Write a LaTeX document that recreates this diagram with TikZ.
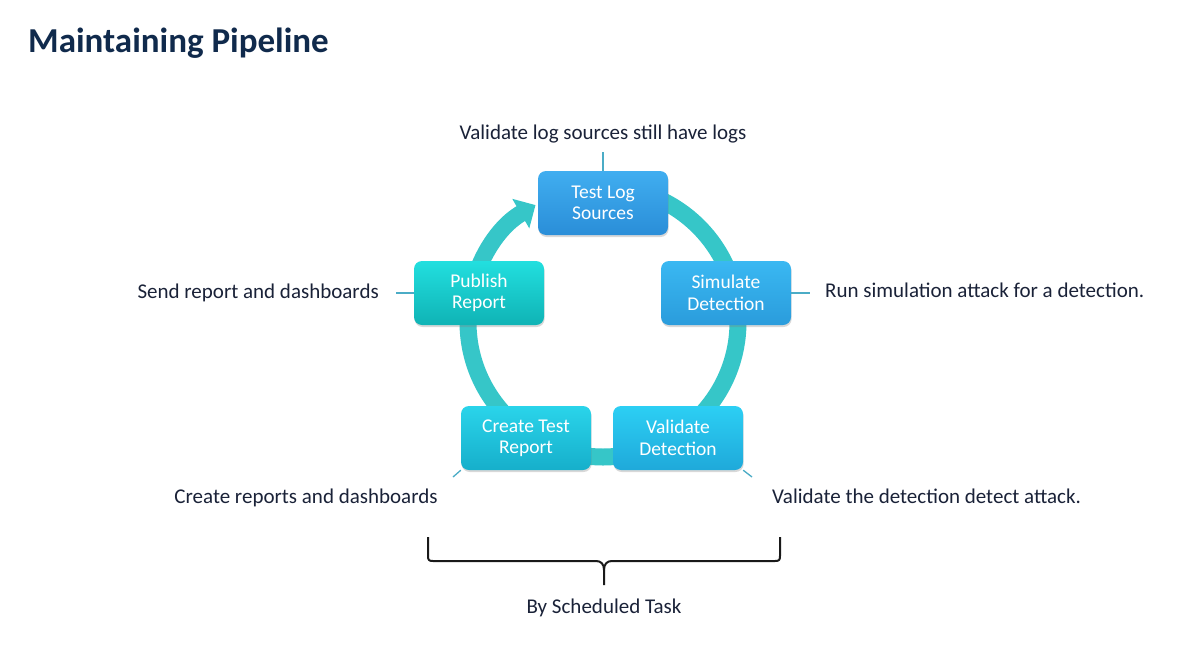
\documentclass[tikz,border=0pt]{standalone}
\usepackage{fontspec}
\setmainfont{Carlito}
\usetikzlibrary{arrows.meta,shadows}
\definecolor{titlec}{HTML}{102A4C}
\definecolor{textc}{HTML}{1A2238}
\definecolor{ringc}{HTML}{36C6C8}
\definecolor{leadc}{HTML}{4BACC6}
\definecolor{tlsT}{HTML}{40AEF0}\definecolor{tlsB}{HTML}{2A8ED8}
\definecolor{simT}{HTML}{3AB8F2}\definecolor{simB}{HTML}{2A9CDC}
\definecolor{valT}{HTML}{2CCFF4}\definecolor{valB}{HTML}{1FA9DA}
\definecolor{creT}{HTML}{2AD4EA}\definecolor{creB}{HTML}{16AFCB}
\definecolor{pubT}{HTML}{22DFDF}\definecolor{pubB}{HTML}{0FB3B5}
\tikzset{
  box/.style={rounded corners=8pt, minimum width=130pt, minimum height=64pt,
    inner sep=0pt, align=center, text=white,
    font=\fontsize{19.5}{21.5}\selectfont,
    drop shadow={opacity=0.3, shadow xshift=0.6pt, shadow yshift=-2pt}},
  lbl/.style={inner sep=0pt, text=textc, font=\fontsize{21}{25}\selectfont},
  leader/.style={draw=leadc, line width=1.3pt},
  ringline/.style={draw=ringc, line width=17pt, -{Triangle[width=33pt,length=17pt]}},
  bracel/.style={draw=black!90, line width=2pt, line join=round}
}
\begin{document}
\begin{tikzpicture}[x=1pt,y=-1pt]
\useasboundingbox (0,0) rectangle (1200,656);
\fill[white] (0,0) rectangle (1200,656);

% title
\node[anchor=base west, inner sep=0pt, text=titlec, font=\fontsize{35}{40}\selectfont\bfseries] (title) at (28,52) {Maintaining Pipeline};

% ring
\draw[ringline] (603,322) ++(270:135) arc[start angle=270, end angle=600, radius=135];

% boxes
\node[box, top color=tlsT, bottom color=tlsB] (tls) at (603,203) {Test Log\\Sources};
\node[box, top color=simT, bottom color=simB] (sim) at (726,293) {Simulate\\Detection};
\node[box, top color=valT, bottom color=valB] (val) at (678,438) {Validate\\Detection};
\node[box, top color=creT, bottom color=creB] (cre) at (526,438) {Create Test\\Report};
\node[box, top color=pubT, bottom color=pubB] (pub) at (479,293) {Publish\\Report};

% labels
\node[lbl, anchor=base] (l1) at (603,139) {Validate log sources still have logs};
\node[lbl, anchor=base east] (l2) at (379,298) {Send report and dashboards};
\node[lbl, anchor=base west] (l3) at (825,297) {Run simulation attack for a detection.};
\node[lbl, anchor=base] (l4) at (306,503) {Create reports and dashboards};
\node[lbl, anchor=base west] (l5) at (772,503) {Validate the detection detect attack.};
\node[lbl, anchor=base] (l6) at (604,613) {By Scheduled Task};

% leader lines
\coordinate (c1) at (603,152);
\coordinate (c2) at (396,293);
\coordinate (c3) at (810,293);
\coordinate (c4) at (453,477);
\coordinate (c5) at (752,477);
\draw[leader] (tls) -- (c1);
\draw[leader] (pub) -- (c2);
\draw[leader] (sim) -- (c3);
\draw[leader] (cre.south west) -- (c4);
\draw[leader] (val.south east) -- (c5);

% brace
\draw[bracel] (428,537) -- (428,556) .. controls (428,560) and (429,561) .. (433,561)
  -- (596,561) .. controls (601,561) and (604,564) .. (604,570) -- (604,585);
\draw[bracel] (604,570) .. controls (604,564) and (607,561) .. (612,561)
  -- (775,561) .. controls (779,561) and (780,560) .. (780,556) -- (780,537);
\end{tikzpicture}
\end{document}
